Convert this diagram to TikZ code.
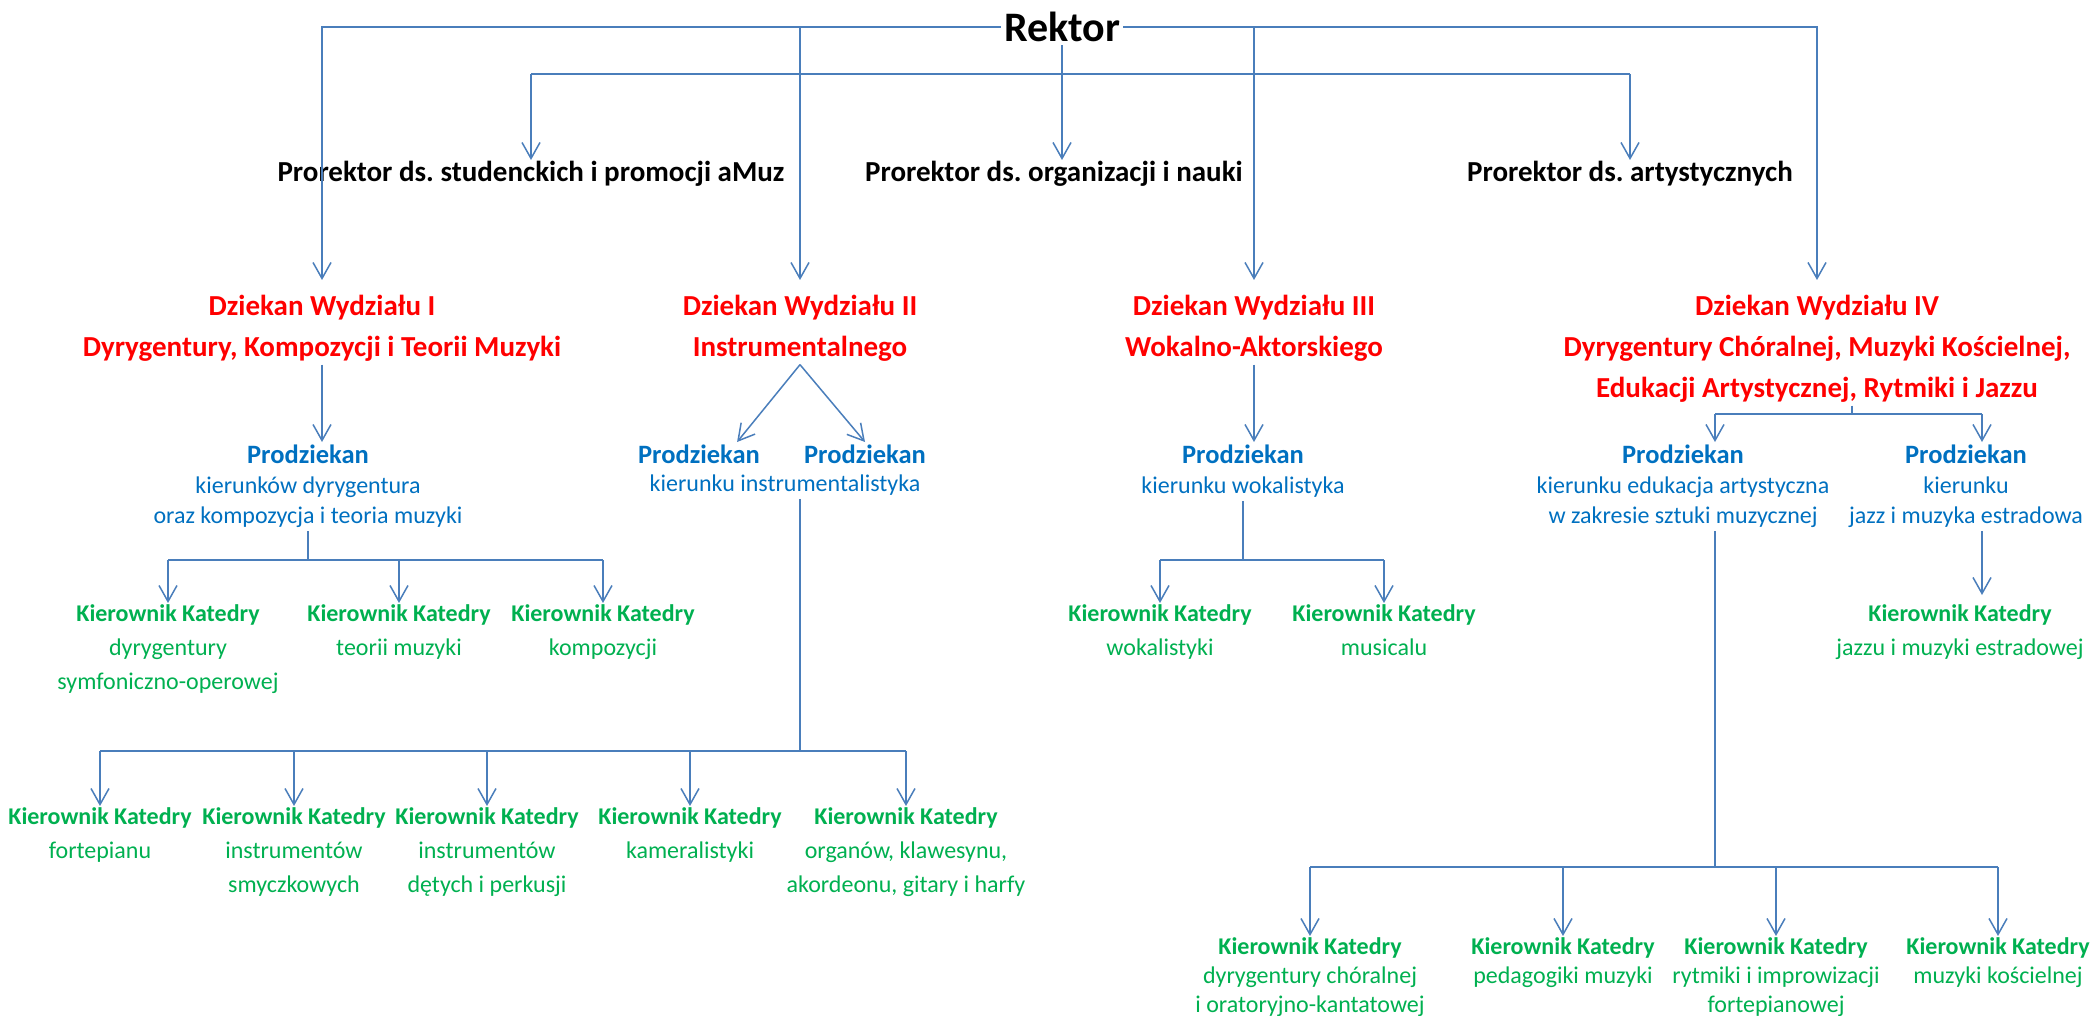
\documentclass[tikz,border=0pt]{standalone}
\usepackage{fontspec}
\setmainfont{Carlito}
\usetikzlibrary{arrows.meta}
\frenchspacing

\definecolor{dzred}{RGB}{255,0,0}
\definecolor{pdblue}{RGB}{0,112,192}
\definecolor{ktgreen}{RGB}{0,176,80}
\definecolor{lnblue}{RGB}{74,126,187}

\begin{document}
\begin{tikzpicture}[x=1pt,y=-1pt,
    line/.style={draw=lnblue, line width=1.5pt},
    bar/.style={draw=lnblue, line width=2.2pt},
    arr/.style={line, -{Straight Barb[length=16pt,width=18pt]}},
    rektor/.style={inner sep=3pt, font=\fontsize{42}{50}\selectfont\bfseries},
    prorektor/.style={inner sep=1pt, font=\fontsize{29}{35}\selectfont\bfseries},
    dziekan/.style={text=dzred, align=center, inner xsep=2pt, inner ysep=3pt, font=\fontsize{29}{41}\selectfont\bfseries},
    prodz/.style={text=pdblue, align=center, inner xsep=2pt, inner ysep=3pt, font=\fontsize{24}{30}\selectfont},
    kat/.style={text=ktgreen, align=center, inner sep=1pt, font=\fontsize{24}{34}\selectfont},
    katb/.style={kat, font=\fontsize{24}{29}\selectfont},
  ]
    \useasboundingbox (0,0) rectangle (2096,1016);

    % 绘制校长
    \node[rektor] (rektor) at (1062,27) {Rektor};

    % 绘制副校长
    \node[prorektor, anchor=north] (pr1) at (531,160) {Prorektor ds. studenckich i promocji aMuz};
    \node[prorektor, anchor=north] (pr2) at (1054,160) {Prorektor ds. organizacji i nauki};
    \node[prorektor, anchor=north] (pr3) at (1630,160) {Prorektor ds. artystycznych};

    % 绘制院长
    \node[dziekan, anchor=north] (d1) at (322,292) {Dziekan Wydziału I\\Dyrygentury, Kompozycji i Teorii Muzyki};
    \node[dziekan, anchor=north] (d2) at (800,292) {Dziekan Wydziału II\\Instrumentalnego};
    \node[dziekan, anchor=north] (d3) at (1254,292) {Dziekan Wydziału III\\Wokalno-Aktorskiego};
    \node[dziekan, anchor=north] (d4) at (1817,292) {Dziekan Wydziału IV\\Dyrygentury Chóralnej, Muzyki Kościelnej,\\Edukacji Artystycznej, Rytmiki i Jazzu};

    % 绘制副院长
    \node[prodz, anchor=north] (pd1) at (308,442) {{\fontsize{26.5}{30}\selectfont\bfseries Prodziekan}\\kierunków dyrygentura\\oraz kompozycja i teoria muzyki};
    \node[prodz, anchor=north] (pd2a) at (699,442) {\fontsize{26.5}{30}\selectfont\bfseries Prodziekan};
    \node[prodz, anchor=north] (pd2b) at (865,442) {\fontsize{26.5}{30}\selectfont\bfseries Prodziekan};
    \node[prodz, anchor=north] (pd2s) at (785,472) {kierunku instrumentalistyka};
    \node[prodz, anchor=north] (pd3) at (1243,442) {{\fontsize{26.5}{30}\selectfont\bfseries Prodziekan}\\kierunku wokalistyka};
    \node[prodz, anchor=north] (pd4a) at (1683,442) {{\fontsize{26.5}{30}\selectfont\bfseries Prodziekan}\\kierunku edukacja artystyczna\\w zakresie sztuki muzycznej};
    \node[prodz, anchor=north] (pd4b) at (1966,442) {{\fontsize{26.5}{30}\selectfont\bfseries Prodziekan}\\kierunku\\jazz i muzyka estradowa};

    % 绘制教研室主任
    \node[kat, anchor=north] (k11) at (168,603) {\textbf{Kierownik Katedry}\\dyrygentury\\symfoniczno-operowej};
    \node[kat, anchor=north] (k12) at (399,603) {\textbf{Kierownik Katedry}\\teorii muzyki};
    \node[kat, anchor=north] (k13) at (603,603) {\textbf{Kierownik Katedry}\\kompozycji};
    \node[kat, anchor=north] (k21) at (100,806) {\textbf{Kierownik Katedry}\\fortepianu};
    \node[kat, anchor=north] (k22) at (294,806) {\textbf{Kierownik Katedry}\\instrumentów\\smyczkowych};
    \node[kat, anchor=north] (k23) at (487,806) {\textbf{Kierownik Katedry}\\instrumentów\\dętych i perkusji};
    \node[kat, anchor=north] (k24) at (690,806) {\textbf{Kierownik Katedry}\\kameralistyki};
    \node[kat, anchor=north] (k25) at (906,806) {\textbf{Kierownik Katedry}\\organów, klawesynu,\\akordeonu, gitary i harfy};
    \node[kat, anchor=north] (k31) at (1160,603) {\textbf{Kierownik Katedry}\\wokalistyki};
    \node[kat, anchor=north] (k32) at (1384,603) {\textbf{Kierownik Katedry}\\musicalu};
    \node[kat, anchor=north] (k4j) at (1960,603) {\textbf{Kierownik Katedry}\\jazzu i muzyki estradowej};
    \node[katb, anchor=north] (k51) at (1310,936) {\textbf{Kierownik Katedry}\\dyrygentury chóralnej\\i oratoryjno-kantatowej};
    \node[katb, anchor=north] (k52) at (1563,936) {\textbf{Kierownik Katedry}\\pedagogiki muzyki};
    \node[katb, anchor=north] (k53) at (1776,936) {\textbf{Kierownik Katedry}\\rytmiki i improwizacji\\fortepianowej};
    \node[katb, anchor=north] (k54) at (1998,936) {\textbf{Kierownik Katedry}\\muzyki kościelnej};

    % 绘制校长的连接线
    \draw[arr, shorten >=12pt] (rektor.west) -| (d1.north);
    \draw[arr, shorten >=12pt] (rektor.east) -| (d4.north);
    \draw[arr, shorten >=12pt] (rektor.west -| d2.north) -- (d2.north);
    \draw[arr, shorten >=12pt] (rektor.east -| d3.north) -- (d3.north);
    \draw[arr] (rektor.south) -- (rektor.south |- pr2.north);
    \coordinate (pl) at (0,74);
    \draw[line] (pr1 |- pl) -- (pr3 |- pl);
    \draw[arr] (pr1 |- pl) -- (pr1.north);
    \draw[arr] (pr3 |- pl) -- (pr3.north);

    % 绘制第一院
    \draw[arr] (d1.south) -- (d1.south |- pd1.north);
    \coordinate (b1) at (0,560);
    \draw[line] (pd1.south) -- (pd1 |- b1);
    \draw[bar] (k11 |- b1) -- (k13 |- b1);
    \foreach \k in {k11,k12,k13}
        \draw[arr] (\k |- b1) -- (\k.north);

    % 绘制第二院
    \draw[arr] (d2.south) -- ([xshift=-25pt]pd2a.north east);
    \draw[arr] (d2.south) -- (pd2b.north);
    \coordinate (b2) at (0,751);
    \draw[line] (d2 |- pd2s.south) -- (d2 |- b2);
    \draw[bar] (k21 |- b2) -- (k25 |- b2);
    \foreach \k in {k21,k22,k23,k24,k25}
        \draw[arr] (\k |- b2) -- (\k.north);

    % 绘制第三院
    \draw[arr] (d3.south) -- (d3.south |- pd3.north);
    \coordinate (b3) at (0,560);
    \draw[line] (pd3.south) -- (pd3 |- b3);
    \draw[bar] (k31 |- b3) -- (k32 |- b3);
    \foreach \k in {k31,k32}
        \draw[arr] (\k |- b3) -- (\k.north);

    % 绘制第四院
    \coordinate (b4) at (1852,414);
    \coordinate (b4l) at (1715,414);
    \coordinate (b4r) at (1982,414);
    \draw[line] (b4 |- d4.south) -- (b4);
    \draw[bar] (b4l) -- (b4r);
    \draw[arr] (b4l) -- (b4l |- pd4a.north);
    \draw[arr] (b4r) -- (b4r |- pd4b.north);
    \draw[arr, shorten >=8pt] (b4r |- pd4b.south) -- (b4r |- k4j.north);
    \coordinate (b5) at (0,867);
    \draw[line] (b4l |- pd4a.south) -- (b4l |- b5);
    \draw[bar] (k51 |- b5) -- (k54 |- b5);
    \foreach \k in {k51,k52,k53,k54}
        \draw[arr] (\k |- b5) -- (\k.north);

\end{tikzpicture}
\end{document}
